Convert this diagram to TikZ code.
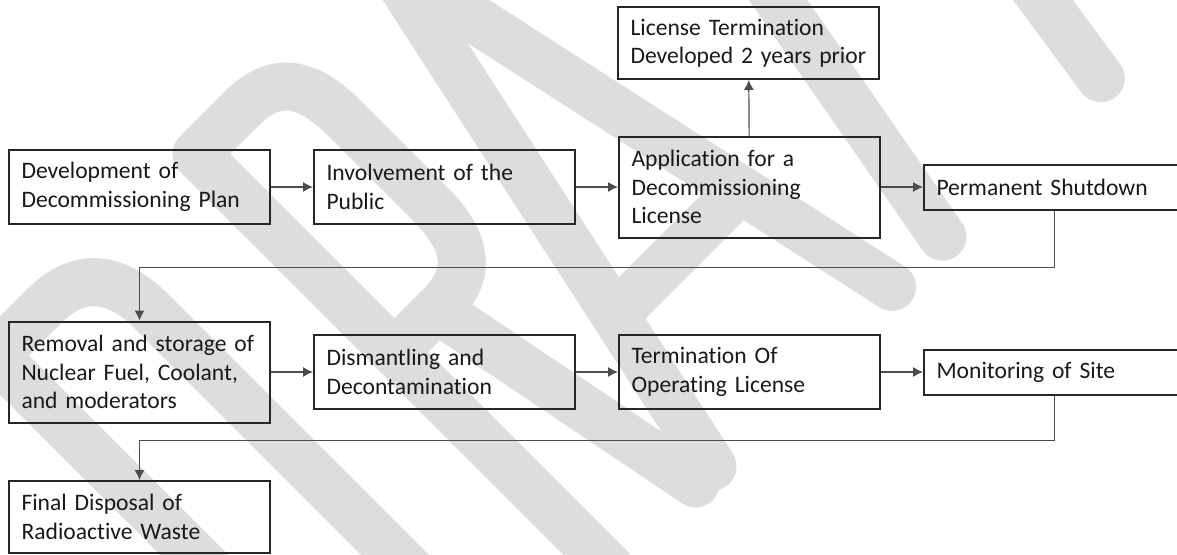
\documentclass[tikz,border=0pt]{standalone}
\usepackage{fontspec}
\setmainfont{Carlito}[Ligatures={NoCommon}]
\usepackage{tikz}
\usetikzlibrary{arrows.meta,positioning}
\definecolor{wmgray}{RGB}{221,221,221}

\tikzset{
  stage/.style={draw=black!85, line width=1pt, text width=118pt, align=left,
    inner xsep=6.25pt, inner ysep=0pt, font=\fontsize{11.8}{14.2}\selectfont, text=black!90},
  flow/.style={->, line width=0.6pt, draw=black!70},
  wmark/.style={draw=wmgray, line width=24pt, line cap=round, line join=round}
}

\begin{document}
\begin{tikzpicture}[x=0.5pt, y=-0.5pt, >={Latex[length=5pt,width=5pt]}, node distance=21pt]
    \useasboundingbox (0,0) rectangle (1177,554);
    \clip (0,0) rectangle (1177,554);

    % DRAFT watermark, letters laid out along a 45 degree baseline
    \begin{scope}[shift={(606.5,606.5)}, x={(0.35355pt,0.35355pt)}, y={(-0.35355pt,0.35355pt)}]
        \draw[wmark] (-255,24) -- (-255,610) -- (-185,610) .. controls (-135,610) and (-113,580) .. (-113,530)
            -- (-113,104) .. controls (-113,54) and (-135,24) .. (-185,24) -- cycle;
        \draw[wmark] (30,24) -- (30,610) -- (95,610) .. controls (140,610) and (160,585) .. (160,530)
            -- (160,410) .. controls (160,355) and (140,330) .. (95,330) -- (30,330);
        \draw[wmark] (90,330) -- (150,24);
        \draw[wmark] (174,24) -- (300,610) -- (428,24);
        \draw[wmark] (212,200) -- (390,200);
        \draw[wmark] (499,24) -- (605,610) -- (745,610);
        \draw[wmark] (555,330) -- (670,330);
        \draw[wmark] (723,24) -- (811,610);
        \draw[wmark] (700,610) -- (920,610);
    \end{scope}

    % First row
    \node[stage, minimum height=37pt] (devplan) at (139.5,187) {Development of\\Decommissioning Plan};
    \node[stage, minimum height=37pt, right=of devplan] (public) {Involvement of the\\Public};
    \node[stage, minimum height=50.5pt, right=of public] (applic) {Application for a\\Decommissioning\\License};
    \node[stage, minimum height=22.5pt, right=of applic] (shutdown) {Permanent Shutdown};
    \node[stage, minimum height=36pt] (lterm) at (748.5,43) {License Termination\\Developed 2 years prior};

    % Second row
    \node[stage, minimum height=50.5pt] (removal) at (139.5,372) {Removal and storage of\\Nuclear Fuel, Coolant,\\and moderators};
    \node[stage, minimum height=37pt, right=of removal] (dismantle) {Dismantling and\\Decontamination};
    \node[stage, minimum height=37pt, right=of dismantle] (opterm) {Termination Of\\Operating License};
    \node[stage, minimum height=22.5pt, right=of opterm] (monitor) {Monitoring of Site};

    % Last step
    \node[stage, minimum height=36pt] (disposal) at (139.5,517) {Final Disposal of\\Radioactive Waste};

    % Connectors
    \draw[flow] (devplan) -- (public);
    \draw[flow] (public) -- (applic);
    \draw[flow] (applic) -- (shutdown);
    \draw[flow] (applic) -- (lterm);
    \draw[flow] (shutdown.south) -- ++(0,57) -| (removal.north);
    \draw[flow] (removal) -- (dismantle);
    \draw[flow] (dismantle) -- (opterm);
    \draw[flow] (opterm) -- (monitor);
    \draw[flow] (monitor.south) -- ++(0,45) -| (disposal.north);
\end{tikzpicture}
\end{document}
